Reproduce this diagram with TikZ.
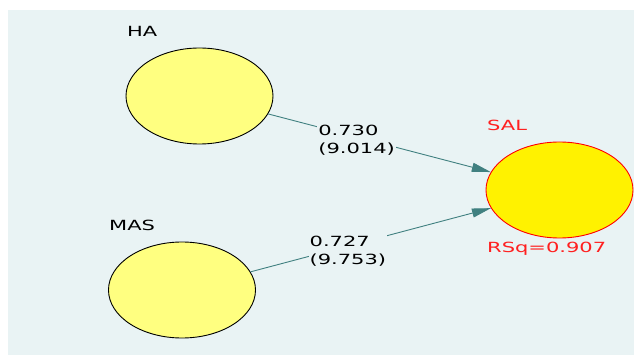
\documentclass[tikz,border=0pt]{standalone}
\usepackage{fontspec}
\usetikzlibrary{shapes.geometric,arrows.meta}

% Fuente ancha como la de la captura
\newfontfamily\plsfont{DejaVu Sans}[FakeStretch=1.5]

% Colores
\definecolor{fondo}{HTML}{E9F3F4}
\definecolor{amarillo}{HTML}{FFFF80}
\definecolor{flecha}{HTML}{408080}
\definecolor{rojo}{HTML}{FF2020}

\begin{document}
\begin{tikzpicture}[x=1pt,y=-1pt,
    latente/.style={ellipse,draw=black,fill=amarillo,line width=0.9pt,
      minimum width=147pt,minimum height=96pt,inner sep=0pt},
    endogena/.style={latente,draw=red,fill=yellow},
    nombre/.style={anchor=base west,inner sep=0pt,
      font=\plsfont\fontsize{14}{18}\selectfont},
    camino/.style={draw=flecha,line width=0.9pt,
      -{Triangle[length=19pt,width=9pt]}},
    coef/.style={fill=fondo,inner sep=1pt,align=left,text=black,
      font=\plsfont\fontsize{14}{18}\selectfont}]

      % Marco y fondo
      \useasboundingbox (0,0) rectangle (634,355);
      \fill[fondo] (8,10) rectangle (634,355);

      % Variables latentes
      \node[latente] (ha) at (199.5,96) {};
      \node[latente] (mas) at (182,290) {};
      \node[endogena] (sal) at (559.5,190) {};

      % Nombres
      \node[nombre] (haname) at (127,37) {HA};
      \node[nombre] (masname) at (109,231) {MAS};
      \node[nombre,text=rojo] (salname) at (487,131) {SAL};
      \node[nombre,text=rojo] (rsq) at (487,253) {RSq=0.907};

      % Caminos con coeficientes
      \draw[camino] (ha) -- node[coef,pos=0.397,yshift=-3pt] (coefha) {0.730\\(9.014)} (sal);
      \draw[camino] (mas) -- node[coef,pos=0.405,yshift=-5pt] (coefmas) {0.727\\(9.753)} (sal);

\end{tikzpicture}
\end{document}
